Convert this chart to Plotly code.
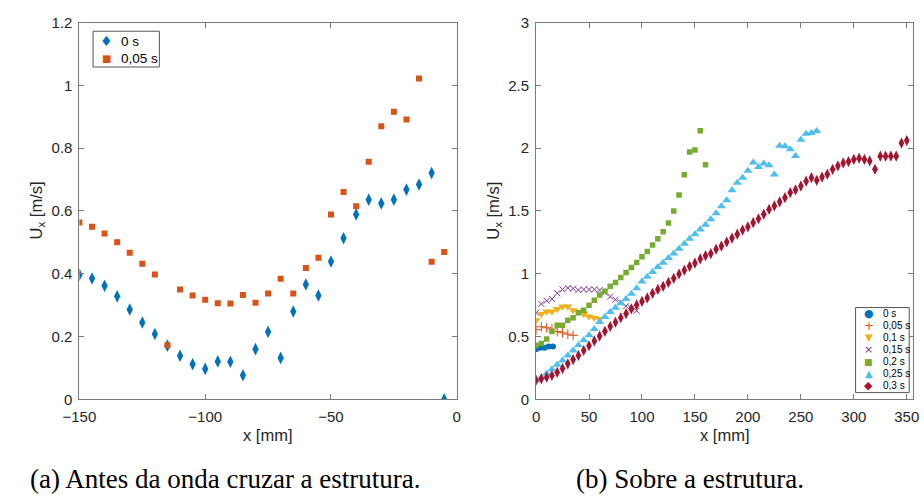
import plotly.graph_objects as go

# ---------------- data: (a) before the wave crosses the structure ----------------
x_a = [-150, -145, -140, -135, -130, -125, -120, -115, -110, -105, -100, -95, -90, -85, -80,
       -75, -70, -65, -60, -55, -50, -45, -40, -35, -30, -25, -20, -15, -10, -5]
u_a_0s = [0.397, 0.385, 0.362, 0.328, 0.286, 0.245, 0.208, 0.171, 0.139, 0.112, 0.097, 0.121,
          0.120, 0.077, 0.160, 0.215, 0.132, 0.280, 0.366, 0.331, 0.439, 0.513, 0.589, 0.636,
          0.624, 0.636, 0.668, 0.684, 0.721, 0.000]
u_a_005s = [0.563, 0.550, 0.528, 0.500, 0.467, 0.432, 0.398, 0.172, 0.350, 0.331, 0.317, 0.306,
            0.305, 0.332, 0.308, 0.337, 0.384, 0.337, 0.418, 0.451, 0.589, 0.660, 0.615, 0.757,
            0.870, 0.916, 0.891, 1.022, 0.438, 0.469]
names_a = ["0 s", "0,05 s"]

# ---------------- data: (b) over the structure ----------------
x_b_0 = [0, 4, 8, 12, 16]
u_b_0 = [0.40, 0.41, 0.41, 0.42, 0.42]

x_b_005 = [0, 5, 10, 15, 20, 25, 30, 35]
u_b_005 = [0.555, 0.578, 0.570, 0.560, 0.540, 0.530, 0.520, 0.510]

x_b_01 = [0, 5, 10, 15, 20, 25, 30, 35, 40, 45, 50, 55, 60]
u_b_01 = [0.63, 0.68, 0.70, 0.70, 0.72, 0.74, 0.74, 0.71, 0.70, 0.68, 0.66, 0.65, 0.64]

x_b_015 = [0, 5, 10, 15, 20, 25, 30, 35, 40, 45, 50, 55, 60, 65, 70, 75, 80, 85, 90, 95]
u_b_015 = [0.69, 0.76, 0.785, 0.80, 0.845, 0.875, 0.887, 0.882, 0.87, 0.875, 0.875, 0.875,
           0.87, 0.85, 0.818, 0.793, 0.772, 0.742, 0.726, 0.706]

x_b_02 = [0, 5, 10, 15, 20, 25, 30, 35, 40, 45, 50, 55, 60, 65, 70, 75, 80, 85, 90, 95, 100,
          105, 110, 115, 120, 125, 130, 135, 140, 145, 150, 155, 160]
u_b_02 = [0.43, 0.445, 0.48, 0.54, 0.59, 0.59, 0.63, 0.65, 0.69, 0.71, 0.75, 0.79, 0.83, 0.86,
          0.90, 0.93, 0.97, 1.01, 1.05, 1.09, 1.136, 1.177, 1.228, 1.279, 1.335, 1.404, 1.499,
          1.627, 1.788, 1.97, 1.985, 2.138, 1.867]

x_b_025 = [0, 5, 10, 15, 20, 25, 30, 35, 40, 45, 50, 55, 60, 65, 70, 75, 80, 85, 90, 95, 100,
           105, 110, 115, 120, 125, 130, 135, 140, 145, 150, 155, 160, 165, 170, 175, 180, 185,
           190, 195, 200, 205, 210, 215, 220, 225, 230, 235, 240, 245, 250, 255, 260, 265]
u_b_025 = [0.15, 0.175, 0.205, 0.24, 0.275, 0.31, 0.35, 0.39, 0.43, 0.47, 0.51, 0.56, 0.615,
           0.655, 0.695, 0.73, 0.765, 0.80, 0.84, 0.885, 0.939, 0.977, 1.015, 1.054, 1.087,
           1.126, 1.161, 1.2, 1.238, 1.279, 1.315, 1.353, 1.391, 1.433, 1.481, 1.537, 1.586,
           1.665, 1.724, 1.765, 1.821, 1.886, 1.85, 1.878, 1.864, 1.79, 2.02, 2.015, 1.992,
           1.937, 2.066, 2.115, 2.12, 2.136]

x_b_03 = [0, 5, 10, 15, 20, 25, 30, 35, 40, 45, 50, 55, 60, 65, 70, 75, 80, 85, 90, 95, 100,
          105, 110, 115, 120, 125, 130, 135, 140, 145, 150, 155, 160, 165, 170, 175, 180, 185,
          190, 195, 200, 205, 210, 215, 220, 225, 230, 235, 240, 245, 250, 255, 260, 265, 270,
          275, 280, 285, 290, 295, 300, 305, 310, 315, 320, 325, 330, 335, 340, 345, 350]
u_b_03 = [0.153, 0.164, 0.176, 0.19, 0.215, 0.245, 0.283, 0.317, 0.35, 0.389, 0.427, 0.465,
          0.504, 0.542, 0.58, 0.614, 0.65, 0.683, 0.721, 0.752, 0.78, 0.808, 0.844, 0.875, 0.9,
          0.931, 0.964, 0.998, 1.028, 1.059, 1.085, 1.118, 1.144, 1.161, 1.195, 1.22, 1.253,
          1.284, 1.315, 1.348, 1.374, 1.407, 1.438, 1.474, 1.512, 1.54, 1.573, 1.606, 1.646,
          1.668, 1.698, 1.737, 1.765, 1.744, 1.77, 1.793, 1.831, 1.859, 1.882, 1.893, 1.91,
          1.92, 1.91, 1.898, 1.831, 1.936, 1.936, 1.936, 1.936, 2.04, 2.06]

names_b = ["0 s", "0,05 s", "0,1 s", "0,15 s", "0,2 s", "0,25 s", "0,3 s"]

xlabel = "x [mm]"
ylabel = "U<sub>x</sub> [m/s]"
caption_a = "(a) Antes da onda cruzar a estrutura."
caption_b = "(b) Sobre a estrutura."

# ---------------- styles ----------------
W, H = 924, 504
BLUE, ORANGE, YELLOW, PURPLE, GREEN, CYAN, RED = (
    "#0072BD", "#D95319", "#EDB120", "#7E2F8E", "#77AC30", "#4DBEEE", "#A2142F")
SANS = "Liberation Sans, Arial, Helvetica, sans-serif"
SERIF = "Liberation Serif, Times New Roman, serif"
AX = "#7a7a7a"
TXT = "#262626"


def px(xp):
    return xp / W


def py(yp):
    return 1 - yp / H


fig = go.Figure()

fig.add_trace(go.Scatter(x=x_a, y=u_a_0s, mode="markers", name=names_a[0],
                         marker=dict(symbol="diamond-tall", size=9, color=BLUE),
                         xaxis="x", yaxis="y", showlegend=False))
fig.add_trace(go.Scatter(x=x_a, y=u_a_005s, mode="markers", name=names_a[1],
                         marker=dict(symbol="square", size=6, color=ORANGE),
                         xaxis="x", yaxis="y", showlegend=False))

series_b = [
    (x_b_0, u_b_0, dict(symbol="circle", size=6, color=BLUE)),
    (x_b_005, u_b_005, dict(symbol="cross-thin-open", size=7, color=ORANGE, line=dict(width=1, color=ORANGE))),
    (x_b_01, u_b_01, dict(symbol="triangle-down", size=8, color=YELLOW)),
    (x_b_015, u_b_015, dict(symbol="x-thin-open", size=6, color=PURPLE, line=dict(width=1, color=PURPLE))),
    (x_b_02, u_b_02, dict(symbol="square", size=5.5, color=GREEN)),
    (x_b_025, u_b_025, dict(symbol="triangle-up", size=8, color=CYAN)),
    (x_b_03, u_b_03, dict(symbol="diamond-tall", size=8, color=RED)),
]
for (xs, ys, mk), nm in zip(series_b, names_b):
    fig.add_trace(go.Scatter(x=xs, y=ys, mode="markers", name=nm, marker=mk,
                             xaxis="x2", yaxis="y2", showlegend=False))

axis_common = dict(showline=True, linecolor=AX, linewidth=1, mirror="ticks",
                   ticks="inside", ticklen=5, tickcolor=AX, tickwidth=1,
                   showgrid=False, zeroline=False,
                   tickfont=dict(family=SANS, size=15, color=TXT))

ydom = [py(404), py(14)]
fig.update_layout(
    width=W, height=H, margin=dict(l=0, r=0, t=0, b=0),
    paper_bgcolor="white", plot_bgcolor="white", showlegend=False,
    xaxis=dict(domain=[px(64), px(451)], range=[-150, 0], dtick=50, tick0=0, anchor="y",
               ticklabelstandoff=4, **axis_common),
    yaxis=dict(domain=ydom, range=[0, 1.2], dtick=0.2, tick0=0, anchor="x",
               ticklabelstandoff=3, **axis_common),
    xaxis2=dict(domain=[px(532.3), px(919)], range=[0, 356], dtick=50, tick0=0, anchor="y2",
                ticklabelstandoff=4, **axis_common),
    yaxis2=dict(domain=ydom, range=[0, 3], dtick=0.5, tick0=0, anchor="x2",
                ticklabelstandoff=3, **axis_common),
)

ann = []
# axis titles
for cx in (257.5, 725.6):
    ann.append(dict(x=px(cx), y=py(441), xref="paper", yref="paper", text=xlabel,
                    showarrow=False, xanchor="center", yanchor="middle",
                    font=dict(family=SANS, size=16.5, color=TXT)))
for cx in (20, 489):
    ann.append(dict(x=px(cx), y=py(209), xref="paper", yref="paper", text=ylabel,
                    showarrow=False, textangle=-90, xanchor="center", yanchor="middle",
                    font=dict(family=SANS, size=16.5, color=TXT)))
# captions
ann.append(dict(x=px(11), y=py(486), xref="paper", yref="paper", text=caption_a, showarrow=False,
                xanchor="left", yanchor="middle", font=dict(family=SERIF, size=27, color="#000000")))
ann.append(dict(x=px(571), y=py(486), xref="paper", yref="paper", text=caption_b, showarrow=False,
                xanchor="left", yanchor="middle", font=dict(family=SERIF, size=27, color="#000000")))

# legend of panel (a): glyph + label inside a box
glyphs_a = ["\u2666", "\u25A0"]
gcol_a = [BLUE, ORANGE]
gsize_a = [14, 10]
for i, (g, c, s, nm) in enumerate(zip(glyphs_a, gcol_a, gsize_a, names_a)):
    yy = 33.3 + i * 18
    ann.append(dict(x=px(92), y=py(yy), xref="paper", yref="paper", text=g, showarrow=False,
                    xanchor="center", yanchor="middle",
                    font=dict(family="DejaVu Sans", size=s, color=c)))
    ann.append(dict(x=px(105), y=py(yy), xref="paper", yref="paper", text=nm, showarrow=False,
                    xanchor="left", yanchor="middle",
                    font=dict(family=SANS, size=13.5, color="#000000")))

# legend of panel (b)
glyphs = ["\u25CF", "+", "\u25BC", "\u00D7", "\u25A0", "\u25B2", "\u25C6"]
gcolors = [BLUE, ORANGE, YELLOW, PURPLE, GREEN, CYAN, RED]
gsizes = [11, 12, 10, 11, 9, 10, 11]
for i, (g, c, s, nm) in enumerate(zip(glyphs, gcolors, gsizes, names_b)):
    yy = 315.3 + i * 12.45
    ann.append(dict(x=px(873.3), y=py(yy), xref="paper", yref="paper", text=g, showarrow=False,
                    xanchor="center", yanchor="middle",
                    font=dict(family="DejaVu Sans", size=s, color=c)))
    ann.append(dict(x=px(886.5), y=py(yy), xref="paper", yref="paper", text=nm, showarrow=False,
                    xanchor="left", yanchor="middle",
                    font=dict(family=SANS, size=10, color="#000000")))
fig.update_layout(annotations=ann)
fig.add_shape(type="rect", xref="paper", yref="paper", x0=px(78), x1=px(146), y0=py(60), y1=py(23),
              line=dict(color="#555555", width=1), fillcolor="white", layer="above")
fig.add_shape(type="rect", xref="paper", yref="paper", x0=px(860), x1=px(915), y0=py(397), y1=py(309),
              line=dict(color="#555555", width=1), fillcolor="white", layer="above")

fig.write_html("out.html")
